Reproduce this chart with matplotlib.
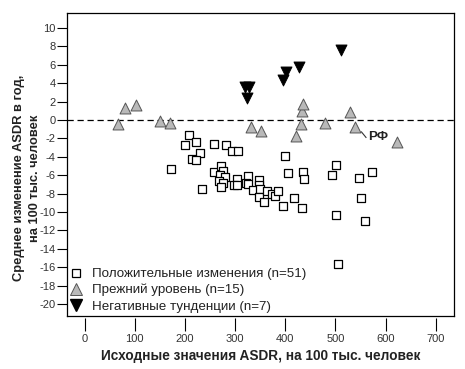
import matplotlib
matplotlib.use("Agg")
import matplotlib.pyplot as plt
from matplotlib.lines import Line2D

plt.rcParams['font.family'] = ['Liberation Sans', 'DejaVu Sans']

# положительные изменения (n=51)
pos_x = [208, 200, 223, 258, 281, 294, 306, 231, 215, 222, 400, 501, 172, 573,
         406, 436, 438, 494, 547, 234, 259, 273, 276, 270, 280, 268, 276, 272,
         303, 297, 303, 325, 321, 326, 348, 348, 335, 349, 347, 357, 363, 374,
         379, 386, 396, 418, 434, 502, 552, 559, 506]
pos_y = [-1.6, -2.7, -2.4, -2.6, -2.7, -3.4, -3.4, -3.6, -4.2, -4.4, -3.9, -4.9,
         -5.3, -5.7, -5.8, -5.7, -6.4, -6.0, -6.3, -7.5, -5.7, -5.0, -5.5, -6.0,
         -6.2, -6.6, -6.8, -7.3, -6.4, -7.1, -7.1, -6.1, -6.8, -7.0, -6.5, -7.1,
         -7.6, -7.5, -8.4, -8.9, -7.7, -8.1, -8.3, -7.7, -9.4, -8.5, -9.6, -10.3,
         -8.5, -11.0, -15.7]

# прежний уровень (n=15)
same_x = [66, 81, 103, 150, 170, 331, 351, 422, 432, 434, 436, 480, 530, 540, 623]
same_y = [-0.4, 1.3, 1.6, -0.1, -0.3, -0.8, -1.2, -1.7, -0.4, 1.0, 1.7, -0.3,
          0.9, -0.8, -2.4]

# негативные тенденции (n=7)
neg_x = [511, 427, 401, 396, 319, 328, 324]
neg_y = [7.6, 5.8, 5.2, 4.4, 3.6, 3.6, 2.4]

rf_x, rf_y = 540, -0.8

xticks = [0, 100, 200, 300, 400, 500, 600, 700]
yticks = list(range(10, -21, -2))

fig = plt.figure(figsize=(4.65, 3.69), dpi=100)
ax = fig.add_axes([0.144, 0.144, 0.833, 0.820])

ax.axhline(0, color='black', linestyle=(0, (5, 3)), linewidth=0.9, zorder=1)

ax.scatter(pos_x, pos_y, marker='s', s=38, facecolors='white',
           edgecolors='black', linewidths=0.9, zorder=2)
ax.scatter(same_x, same_y, marker='^', s=62, facecolors='#b9b9b9',
           edgecolors='#555555', linewidths=0.7, zorder=3)
ax.scatter(neg_x, neg_y, marker='v', s=62, facecolors='black',
           edgecolors='black', linewidths=0.7, zorder=3)

ax.plot([rf_x + 12, rf_x + 21], [rf_y - 0.5, rf_y - 1.1], color='#333333', lw=0.8)
ax.text(rf_x + 25, rf_y - 1.1, 'РФ', fontsize=9.5, fontweight='bold',
        color='#222222', va='center', ha='left')

ax.set_xlim(-35, 737)
ax.set_ylim(-21.3, 11.6)
ax.set_yticks(yticks)
ax.set_yticklabels([str(v) for v in yticks])
ax.tick_params(axis='y', direction='out', length=7, width=0.8, pad=1,
               labelsize=8, labelcolor='#333333')

# x ticks drawn slightly below the frame
ax.set_xticks([])
sec = ax.secondary_xaxis(-0.008)
sec.set_xticks(xticks)
sec.spines['bottom'].set_visible(False)
sec.tick_params(axis='x', direction='out', length=9, width=0.8, pad=2,
                labelsize=8, labelcolor='#333333')

for sp in ax.spines.values():
    sp.set_linewidth(0.9)

sec.set_xlabel('Исходные значения ASDR, на 100 тыс. человек', fontsize=9.8,
               fontweight='bold', color='#222222', labelpad=4)
ax.set_ylabel('Среднее изменение ASDR в год,\nна 100 тыс. человек', fontsize=9.3,
              fontweight='bold', color='#222222', linespacing=1.45)
ax.yaxis.set_label_coords(-0.068, 0.455)

handles = [
    Line2D([], [], marker='s', ls='none', markersize=5.5, markerfacecolor='white',
           markeredgecolor='black', markeredgewidth=0.9),
    Line2D([], [], marker='^', ls='none', markersize=8, markerfacecolor='#b9b9b9',
           markeredgecolor='#555555', markeredgewidth=0.7),
    Line2D([], [], marker='v', ls='none', markersize=8, markerfacecolor='black',
           markeredgecolor='black'),
]
labels = ['Положительные изменения (n=51)', 'Прежний уровень (n=15)',
          'Негативные тунденции (n=7)']
leg = ax.legend(handles, labels, loc='lower left', frameon=False, fontsize=9.6,
                handlelength=0.8, handletextpad=0.85, labelspacing=0.28,
                borderaxespad=0.05, borderpad=0.2)
for t in leg.get_texts():
    t.set_color('#222222')

fig.savefig('out.png', dpi=100)
